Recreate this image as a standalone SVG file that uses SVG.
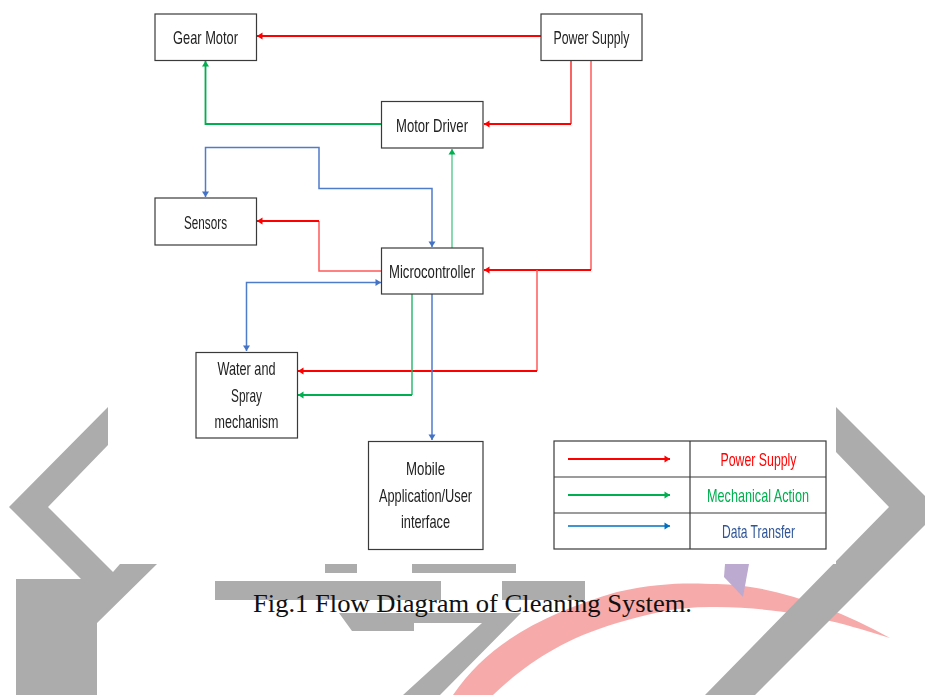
<svg xmlns="http://www.w3.org/2000/svg" width="925" height="695" viewBox="0 0 925 695">
<style>
.box{fill:#fff;stroke:#3a3a3a;stroke-width:1.2}
.t{font-family:"Liberation Sans",Arial,sans-serif;font-size:18.500px;fill:#222;text-anchor:middle;filter:url(#soft)}
.c{fill:none;stroke-width:1.5}
.r{stroke:#f00;stroke-width:1.8}
.rm{stroke:#f62020;stroke-width:1.4}
.rl{stroke:#ff5a5a;stroke-width:1.5}
.g{stroke:#00b050;stroke-width:1.8}
.gm{stroke:#22b566;stroke-width:1.4}
.gl{stroke:#4cc486;stroke-width:1.3}
.b{stroke:#4f7bcb;stroke-width:1.5}
.wm{fill:#acacac}
</style>
<defs>
<filter id="soft" x="-5%" y="-20%" width="110%" height="140%"><feGaussianBlur stdDeviation="0.35"/></filter>
<marker id="ar" markerUnits="userSpaceOnUse" markerWidth="8" markerHeight="8" refX="6" refY="4" orient="auto-start-reverse"><path d="M0.5,0.5L6,4L0.5,7.500Z" fill="#f00"/></marker>
<marker id="ag" markerUnits="userSpaceOnUse" markerWidth="8" markerHeight="8" refX="6" refY="4" orient="auto-start-reverse"><path d="M0.5,0.5L6,4L0.5,7.500Z" fill="#00b050"/></marker>
<marker id="ab" markerUnits="userSpaceOnUse" markerWidth="8" markerHeight="8" refX="6" refY="4" orient="auto-start-reverse"><path d="M0.5,0.5L6,4L0.5,7.500Z" fill="#4472c4"/></marker>
<marker id="ac" markerUnits="userSpaceOnUse" markerWidth="8" markerHeight="8" refX="6" refY="4" orient="auto-start-reverse"><path d="M0.5,0.5L6,4L0.5,7.500Z" fill="#0070c0"/></marker>
</defs>
<rect width="925" height="695" fill="#fff"/>
<g id="watermark">
<polygon class="wm" points="108,407 9,507 81,579 16,579 16,695 97,695 97,623 157,564 120,564 113,572 48,507 108,445"/>
<rect class="wm" x="325" y="564" width="32" height="9"/>
<rect class="wm" x="412" y="564" width="104" height="9"/>
<rect class="wm" x="215" y="581" width="226" height="19"/>
<rect class="wm" x="502" y="581" width="83" height="19"/>
<polygon class="wm" points="339,613 521,613 440,695 403,695 482,623 414,623 414,631 352,631"/>
<path d="M453,695C490,640 550,612 617,592C660,582 690,583 717,584C770,585 830,605 890,638C840,622 790,608 717,607C680,606 650,613 617,623C560,640 525,665 493,695Z" fill="#f7aaaa"/>
<polygon points="725,564 724,577 743,597 749,564" fill="#bcaad0"/>
<polygon class="wm" points="836,407 925,496 925,525 755,695 705,695 889,507 836,452"/>
<rect x="108" y="0" width="728" height="564" fill="#fff"/>
</g>
<g id="connectors" class="c">
<path class="c r" d="M541,36H257" marker-end="url(#ar)"/>
<path class="c rm" d="M571,60V124"/>
<path class="c r" d="M571,124H484" marker-end="url(#ar)"/>
<path class="c rl" d="M591,60V270"/>
<path class="c r" d="M591,270H484" marker-end="url(#ar)"/>
<path class="c rl" d="M537,270V371"/>
<path class="c r" d="M537,371H298" marker-end="url(#ar)"/>
<path class="c rl" d="M381,271H319V221"/>
<path class="c r" d="M319,221H257" marker-end="url(#ar)"/>
<path class="c g" d="M381,124H205.500V61" marker-end="url(#ag)"/>
<path class="c gl" d="M452,248V149" marker-end="url(#ag)"/>
<path class="c gm" d="M412,294V395"/>
<path class="c g" d="M412,395H298" marker-end="url(#ag)"/>
<path class="c b" d="M205.500,197V147.500H319V188.500H432V247" marker-start="url(#ab)" marker-end="url(#ab)"/>
<path class="c b" d="M381,282.500H246.500V351" marker-start="url(#ab)" marker-end="url(#ab)"/>
<path class="c b" d="M432,294V440" marker-end="url(#ab)"/>
</g>
<g id="gear-motor"><rect class="box" x="155" y="14" width="101.500" height="46.500"/><text class="t" x="205.500" y="44" textLength="65" lengthAdjust="spacingAndGlyphs">Gear Motor</text></g>
<g id="power-supply"><rect class="box" x="541" y="14" width="101" height="46.500"/><text class="t" x="591.500" y="44" textLength="76" lengthAdjust="spacingAndGlyphs">Power Supply</text></g>
<g id="motor-driver"><rect class="box" x="381.500" y="101.500" width="101.500" height="46.500"/><text class="t" x="432" y="132" textLength="72" lengthAdjust="spacingAndGlyphs">Motor Driver</text></g>
<g id="sensors"><rect class="box" x="155" y="198" width="101.500" height="47"/><text class="t" x="205.500" y="229" textLength="43" lengthAdjust="spacingAndGlyphs">Sensors</text></g>
<g id="microcontroller"><rect class="box" x="381.500" y="248" width="101.500" height="46"/><text class="t" x="432" y="278" textLength="86" lengthAdjust="spacingAndGlyphs">Microcontroller</text></g>
<g id="water-spray"><rect class="box" x="196" y="352.500" width="101.500" height="85.500"/><text class="t" x="246.500" y="375" textLength="58" lengthAdjust="spacingAndGlyphs">Water and</text><text class="t" x="246.500" y="402" textLength="31" lengthAdjust="spacingAndGlyphs">Spray</text><text class="t" x="246.500" y="428" textLength="64" lengthAdjust="spacingAndGlyphs">mechanism</text></g>
<g id="mobile-app"><rect class="box" x="368.500" y="441.500" width="114.500" height="108"/><text class="t" x="425.500" y="475" textLength="39" lengthAdjust="spacingAndGlyphs">Mobile</text><text class="t" x="425.500" y="502" textLength="93" lengthAdjust="spacingAndGlyphs">Application/User</text><text class="t" x="425.500" y="528" textLength="49" lengthAdjust="spacingAndGlyphs">interface</text></g>
<g id="legend">
<rect class="box" x="554" y="441" width="272" height="108"/>
<path d="M554,477H826M554,513H826M690,441V549" fill="none" stroke="#3a3a3a" stroke-width="1.2"/>
<path class="c r" d="M568,459H670" marker-end="url(#ar)"/>
<path class="c g" d="M568,495H670" marker-end="url(#ag)"/>
<path class="c" stroke="#0070c0" stroke-width="1.6" d="M568,526H670" marker-end="url(#ac)"/>
<text class="t" style="fill:#f00" x="758.500" y="466" textLength="76" lengthAdjust="spacingAndGlyphs">Power Supply</text>
<text class="t" style="fill:#00b050" x="758" y="502" textLength="102" lengthAdjust="spacingAndGlyphs">Mechanical Action</text>
<text class="t" style="fill:#2f5597" x="758.500" y="538" textLength="73" lengthAdjust="spacingAndGlyphs">Data Transfer</text>
</g>
<text id="caption" x="253" y="612" font-family="'Liberation Serif','Times New Roman',serif" font-size="26" fill="#111" textLength="439" lengthAdjust="spacingAndGlyphs">Fig.1 Flow Diagram of Cleaning System.</text>
</svg>
